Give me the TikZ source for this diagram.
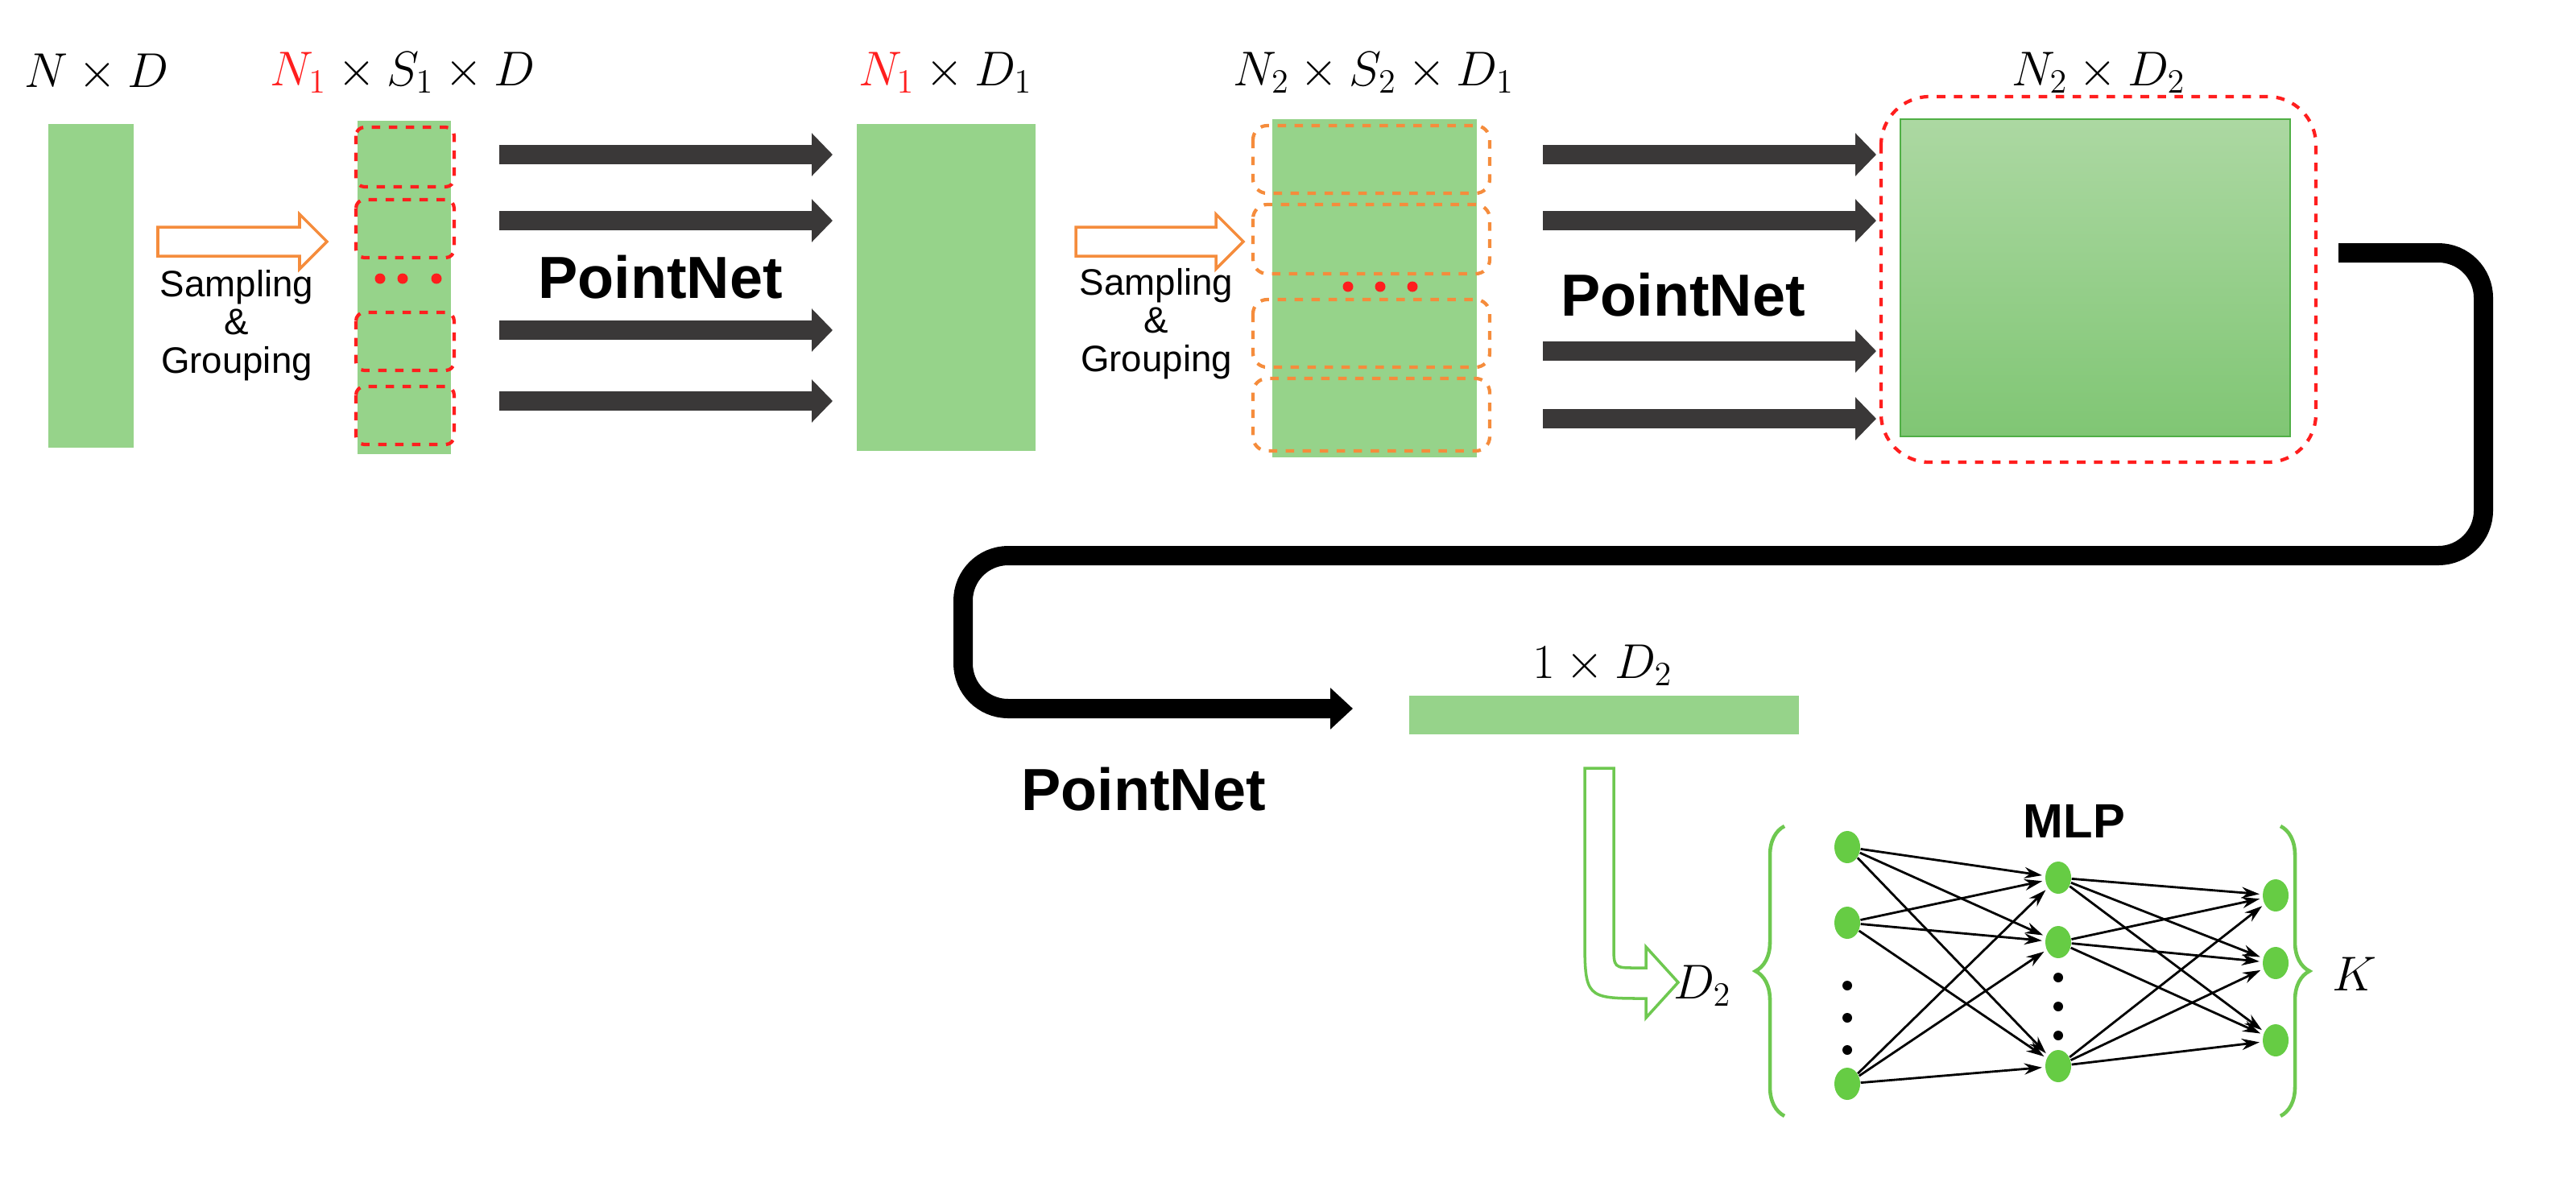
\documentclass[tikz,border=0pt]{standalone}
\usepackage{fontspec}
\setmainfont{Liberation Sans}
\usetikzlibrary{arrows.meta,shapes.geometric,decorations.pathreplacing}
\definecolor{boxg}{RGB}{150,211,138}
\definecolor{orng}{RGB}{245,140,60}
\definecolor{redd}{RGB}{255,30,30}
\definecolor{darkar}{RGB}{58,56,56}
\definecolor{nodeg}{RGB}{102,204,68}
\definecolor{braceg}{RGB}{110,200,80}
\begin{document}
\begin{tikzpicture}[x=0.02cm,y=-0.02cm,
  gbox/.style={draw=none,fill=boxg,inner sep=0},
  lab/.style={font=\fontsize{17}{20}\selectfont},
  sg/.style={font=\fontsize{13}{13.5}\selectfont,align=center},
  pn/.style={font=\fontsize{21}{24}\selectfont\bfseries},
  hol/.style={draw=orng,fill=white,line width=1pt,line join=miter},
  bar/.style={draw=darkar,line width=0.24cm,-{Triangle[length=0.26cm,width=0.52cm]}},
  rdash/.style={draw=redd,dashed,line width=1.2pt,rounded corners=3pt},
  odash/.style={draw=orng,dashed,line width=1.2pt,rounded corners=5pt},
  dot/.style={circle,fill=redd,inner sep=0,minimum size=0.13cm},
  nn/.style={ellipse,fill=nodeg,inner sep=0,minimum width=0.32cm,minimum height=0.4cm},
  bd/.style={circle,fill=black,inner sep=0,minimum size=0.12cm},
  ed/.style={line width=0.8pt,-{Stealth[length=0.22cm,width=0.14cm]},shorten >=1pt},
  br/.style={draw=braceg,line width=1.3pt,decorate,decoration={brace,amplitude=0.36cm}}
]
\useasboundingbox (0,0) rectangle (1599.5,731);
% labels
\node[lab] (l1) at (60,45) {$N\times D$};
\node[lab] (l2) at (250,45) {$\textcolor{redd}{N_1}\times S_1\times D$};
\node[lab] (l3) at (587,45) {$\textcolor{redd}{N_1}\times D_1$};
\node[lab] (l4) at (853,45) {$N_2\times S_2\times D_1$};
\node[lab] (l5) at (1303,45) {$N_2\times D_2$};
\node[lab] (l6) at (995,413) {$1\times D_2$};
% boxes
\path[gbox] (30,77) rectangle (83,278) node[pos=.5] (b1) {};
\path[gbox] (222,75) rectangle (280,282) node[pos=.5] (b2) {};
\path[gbox] (532,77) rectangle (643,280) node[pos=.5] (b3) {};
\path[gbox] (790,74) rectangle (917,284) node[pos=.5] (b4) {};
\shade[top color={rgb,255:red,172;green,216;blue,162},bottom color={rgb,255:red,128;green,198;blue,116}] (1180,74) rectangle (1422,271);
\draw[draw={rgb,255:red,80;green,175;blue,70},line width=0.8pt] (1180,74) rectangle (1422,271) node[pos=.5] (b5) {};
\path[gbox] (875,432) rectangle (1117,456) node[pos=.5] (b6) {};
% dashed groups box2
\draw[rdash] (221,79) rectangle (282,116);
\draw[rdash] (221,124) rectangle (282,160);
\draw[rdash] (221,194) rectangle (282,230);
\draw[rdash] (221,240) rectangle (282,276);
\node[dot] (d1) at (236,173) {};
\node[dot] (d2) at (250,173) {};
\node[dot] (d3) at (271,173) {};
% dashed groups box4
\draw[odash] (778,78) rectangle (925,120);
\draw[odash] (778,127) rectangle (925,170);
\draw[odash] (778,186) rectangle (925,228);
\draw[odash] (778,235) rectangle (925,280);
\node[dot] (d4) at (837,178) {};
\node[dot] (d5) at (857,178) {};
\node[dot] (d6) at (877,178) {};
% group box5
\draw[draw=redd,dashed,line width=1.2pt,rounded corners=0.6cm] (1168,60) rectangle (1438,287);
% hollow arrows
\draw[hol] (98,141) -- (186,141) -- (186,133) -- (203,150) -- (186,167) -- (186,159) -- (98,159) -- cycle;
\node[sg] (t1) at (147,202) {Sampling\\\&\\Grouping};
\draw[hol] (668,141) -- (755,141) -- (755,133) -- (772,150) -- (755,167) -- (755,159) -- (668,159) -- cycle;
\node[sg] (t2) at (718,201) {Sampling\\\&\\Grouping};
% black arrows
\foreach \i/\y in {1/96,2/137,3/205,4/249}{
  \coordinate (p\i s) at (310,\y); \coordinate (p\i e) at (517,\y);
  \draw[bar] (p\i s) -- (p\i e);}
\foreach \i/\y in {1/96,2/137,3/218,4/260}{
  \coordinate (q\i s) at (958,\y); \coordinate (q\i e) at (1165,\y);
  \draw[bar] (q\i s) -- (q\i e);}
\node[pn] (pn1) at (410,172) {PointNet};
\node[pn] (pn2) at (1045,183) {PointNet};
\node[pn] (pn3) at (710,490) {PointNet};
% long connector
\coordinate (cs) at (1452,157);
\coordinate (ce) at (840,440);
\draw[line width=0.24cm,rounded corners=0.56cm,-{Triangle[length=0.28cm,width=0.5cm]}] (cs) -- (1542,157) -- (1542,345) -- (598,345) -- (598,440) -- (ce);
% green bent arrow
\draw[draw=braceg,fill=white,line width=1pt,line join=miter]
  (984,477) -- (984,580) .. controls (984,620) .. (1022,620) -- (1022,632) -- (1042,610) -- (1022,588) -- (1022,601) -- (1016,601) .. controls (1002,601) .. (1002,587) -- (1002,477) -- cycle;
\node[lab] (dl) at (1057,612) {$D_2$};
\node[lab] (kl) at (1462,605) {$K$};
% braces
\coordinate (bl1) at (1108,693); \coordinate (bl2) at (1108,513);
\coordinate (br1) at (1416,513); \coordinate (br2) at (1416,693);
\draw[br] (bl1) -- (bl2);
\draw[br] (br1) -- (br2);
\node[font=\fontsize{17}{20}\selectfont\bfseries] (mlp) at (1288,510) {MLP};
% network
\node[nn] (a1) at (1147,526) {};
\node[nn] (a2) at (1147,573) {};
\node[nn] (a3) at (1147,673) {};
\node[nn] (m1) at (1278,545) {};
\node[nn] (m2) at (1278,585) {};
\node[nn] (m3) at (1278,662) {};
\node[nn] (o1) at (1413,556) {};
\node[nn] (o2) at (1413,598) {};
\node[nn] (o3) at (1413,646) {};
\foreach \y [count=\k] in {612,632,652}{\node[bd] (ad\k) at (1147,\y) {};}
\foreach \y [count=\k] in {607,625,643}{\node[bd] (md\k) at (1278,\y) {};}
\foreach \s in {a1,a2,a3}{\foreach \t in {m1,m2,m3}{\draw[ed] (\s) -- (\t);}}
\foreach \s in {m1,m2,m3}{\foreach \t in {o1,o2,o3}{\draw[ed] (\s) -- (\t);}}
\end{tikzpicture}
\end{document}
